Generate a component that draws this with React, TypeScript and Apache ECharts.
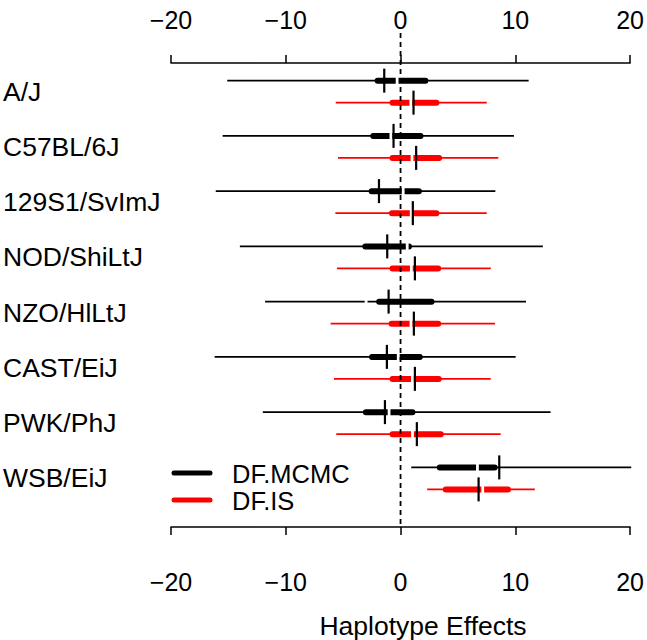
import React, { useEffect, useRef } from "react";
import * as echarts from "echarts";

const strains = [
  "A/J",
  "C57BL/6J",
  "129S1/SvImJ",
  "NOD/ShiLtJ",
  "NZO/HlLtJ",
  "CAST/EiJ",
  "PWK/PhJ",
  "WSB/EiJ",
];

const xTicks = [-20, -10, 0, 10, 20];

// DF.MCMC (black)
const mcmcLo95 = [-15.1, -15.5, -16.1, -14.0, -11.8, -16.2, -12.0, 0.93];
const mcmcLo50 = [-2.26, -2.64, -2.78, -3.33, -2.12, -2.75, -3.28, 3.16];
const mcmcMedian = [-1.42, -0.61, -1.88, -1.16, -1.04, -1.19, -1.36, 8.6];
const mcmcHi50 = [2.43, 2.0, 1.86, 1.0, 2.96, 1.94, 1.3, 8.46];
const mcmcHi95 = [11.16, 9.88, 8.26, 12.4, 10.93, 10.03, 13.07, 20.1];
const mcmcMean = [-0.3, -0.84, 0.23, 0.58, -3.0, -0.2, -1.0, 6.7];

// DF.IS (red)
const isLo95 = [-5.65, -5.45, -5.68, -5.54, -6.09, -5.8, -5.6, 2.32];
const isLo50 = [-0.96, -0.96, -1.01, -0.96, -1.04, -0.96, -0.96, 3.68];
const isMedian = [1.13, 1.36, 1.07, 1.25, 1.16, 1.25, 1.42, 6.8];
const isHi50 = [3.39, 3.62, 3.39, 3.54, 3.54, 3.59, 3.77, 9.62];
const isHi95 = [7.51, 8.52, 7.51, 7.86, 8.23, 7.86, 8.72, 11.7];
const isMean = [0.9, 1.0, 0.93, 0.94, 0.91, 1.03, 1.04, 7.16];

const FONT = "'Liberation Sans', Arial, Helvetica, sans-serif";

const fmt = (v: number) => (v < 0 ? "\u2212" + Math.abs(v) : String(v));

function buildData(lo95: number[], lo50: number[], med: number[], hi50: number[], hi95: number[], mean: number[]) {
  return strains.map((_, i) => [lo95[i], lo50[i], med[i], hi50[i], hi95[i], mean[i], i]);
}

function makeRender(color: string, offset: number) {
  return (params: any, api: any) => {
    const row = api.value(6);
    const px = (v: number) => api.coord([v, row])[0];
    const y = api.coord([0, row])[1] + offset;
    const thickW = 6;
    const x50a = px(api.value(1)) + thickW / 2;
    const x50b = px(api.value(3)) - thickW / 2;
    const xm = px(api.value(5));
    const xmed = px(api.value(2));
    return {
      type: "group",
      children: [
        {
          type: "line",
          shape: { x1: px(api.value(0)), y1: y, x2: px(api.value(4)), y2: y },
          style: { stroke: color, lineWidth: 1.8, fill: null },
        },
        {
          type: "line",
          shape: { x1: x50a, y1: y, x2: Math.max(x50a, x50b), y2: y },
          style: { stroke: color, lineWidth: thickW, lineCap: "round", fill: null },
        },
        {
          type: "rect",
          shape: { x: xm - 1.4, y: y - 5, width: 2.8, height: 10 },
          style: { fill: "#fff", stroke: null },
        },
        {
          type: "line",
          shape: { x1: xmed, y1: y - 12, x2: xmed, y2: y + 12 },
          style: { stroke: "#000", lineWidth: 2.2, fill: null },
        },
      ],
    };
  };
}

export default function App() {
  const ref = useRef<HTMLDivElement>(null);
  useEffect(() => {
    if (!ref.current) return;
    const chart = echarts.init(ref.current, null, { renderer: "svg" });
    const axisCommon = {
      type: "value",
      min: xTicks[0],
      max: xTicks[xTicks.length - 1],
      interval: 10,
      splitLine: { show: false },
      axisLine: { show: true, onZero: false, lineStyle: { color: "#000", width: 1.5 } },
      axisTick: { show: true, length: 8, lineStyle: { color: "#000", width: 1.5 } },
      axisLabel: { fontSize: 25, color: "#000", fontFamily: FONT, formatter: fmt },
    };
    chart.setOption({
      animation: false,
      backgroundColor: "#fff",
      textStyle: { fontFamily: FONT },
      grid: { left: 171, right: 16, top: 64, height: 442 },
      xAxis: [
        { ...axisCommon, position: "bottom", offset: 21, axisLabel: { ...axisCommon.axisLabel, margin: 42 } },
        { ...axisCommon, position: "top", offset: 1, axisLabel: { ...axisCommon.axisLabel, margin: 31 } },
      ],
      yAxis: {
        type: "category",
        data: strains,
        inverse: true,
        axisLine: { show: false },
        axisTick: { show: false },
        splitLine: { show: false },
        axisLabel: { align: "left", margin: 168, fontSize: 26.5, color: "#000", fontFamily: FONT },
      },
      series: [
        {
          name: "DF.MCMC",
          type: "custom",
          xAxisIndex: 0,
          clip: false,
          renderItem: makeRender("#000000", -11),
          encode: { x: [0, 1, 2, 3, 4, 5], y: 6 },
          data: buildData(mcmcLo95, mcmcLo50, mcmcMedian, mcmcHi50, mcmcHi95, mcmcMean),
        },
        {
          name: "DF.IS",
          type: "custom",
          xAxisIndex: 0,
          clip: false,
          renderItem: makeRender("#ff0000", 11),
          encode: { x: [0, 1, 2, 3, 4, 5], y: 6 },
          data: buildData(isLo95, isLo50, isMedian, isHi50, isHi95, isMean),
        },
        {
          name: "zero",
          type: "custom",
          xAxisIndex: 0,
          clip: false,
          z: 5,
          renderItem: (params: any, api: any) => {
            const x = api.coord([api.value(0), 0])[0];
            return {
              type: "line",
              shape: { x1: x, y1: 33, x2: x, y2: 528 },
              style: { stroke: "#000", lineWidth: 1.8, lineDash: [5, 4], fill: null },
            };
          },
          encode: { x: 0, y: 1 },
          data: [[0, 0]],
        },
      ],
      graphic: [
        {
          type: "line",
          shape: { x1: 174, y1: 473, x2: 210, y2: 473 },
          style: { stroke: "#000", lineWidth: 5, lineCap: "round" },
        },
        {
          type: "line",
          shape: { x1: 174, y1: 500, x2: 210, y2: 500 },
          style: { stroke: "#ff0000", lineWidth: 5, lineCap: "round" },
        },
        {
          type: "text",
          x: 232,
          y: 474,
          style: { text: "DF.MCMC", fontSize: 25.5, lineHeight: 25, fontFamily: FONT, fill: "#000", verticalAlign: "middle", align: "left" },
        },
        {
          type: "text",
          x: 232,
          y: 501,
          style: { text: "DF.IS", fontSize: 25.5, lineHeight: 25, fontFamily: FONT, fill: "#000", verticalAlign: "middle", align: "left" },
        },
        {
          type: "text",
          x: 423,
          y: 626,
          style: { text: "Haplotype Effects", fontSize: 26.5, lineHeight: 26, fontFamily: FONT, fill: "#000", verticalAlign: "middle", align: "center" },
        },
      ],
    });
    return () => chart.dispose();
  }, []);
  return <div ref={ref} style={{ width: 647, height: 640, position: "absolute", left: 0, top: 0 }} />;
}
